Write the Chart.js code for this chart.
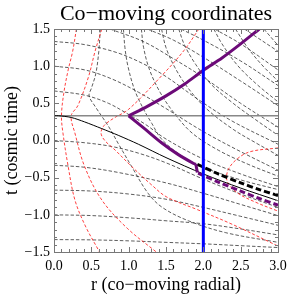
<!DOCTYPE html>
<html>
<head>
<meta charset="utf-8">
<script src="https://cdn.jsdelivr.net/npm/chart.js@4.4.0/dist/chart.umd.min.js"></script>
<style>
  html, body { margin: 0; padding: 0; background: #fff; }
</style>
</head>
<body>
<canvas id="chart" width="288" height="296"></canvas>
<script>
// axis ticks
const xTicks = [0, 0.5, 1, 1.5, 2, 2.5, 3];
const yTicks = [-1.5, -1, -0.5, 0, 0.5, 1, 1.5];

// black dashed lines starting flat at r = 0 (lower half)
const hLow0 = [[0,0],[0.41,-0.03],[0.77,-0.08],[1.13,-0.17],[1.5,-0.3],[2.0,-0.52],[2.5,-0.72],[3.0,-0.9]];
const hLow1 = [[0,-0.333],[0.41,-0.36],[0.86,-0.43],[1.5,-0.57],[2.0,-0.71],[2.5,-0.86],[3.0,-1.01]];
const hLow2 = [[0,-0.667],[0.5,-0.68],[1.0,-0.72],[1.5,-0.79],[2.0,-0.9],[2.5,-1.02],[3.0,-1.14]];
const hLow3 = [[0,-1.0],[0.5,-1.01],[1.0,-1.04],[1.5,-1.08],[2.0,-1.12],[2.5,-1.19],[3.0,-1.27]];
const hLow4 = [[0,-1.333],[0.5,-1.337],[1.0,-1.35],[1.5,-1.37],[2.0,-1.39],[2.5,-1.415],[3.0,-1.44]];

// black dashed lines of the same family, upper half
const hUp2 = [[0,0.667],[0.41,0.61],[0.73,0.5],[1.0,0.35],[1.22,0.22],[1.5,0.02],[2.0,-0.25],[2.5,-0.45],[3.0,-0.62]];
const hUp3 = [[0,1.0],[0.41,0.95],[0.77,0.83],[1.13,0.65],[1.5,0.43],[2.0,0.12],[2.5,-0.15],[3.0,-0.4]];
const hUp4 = [[0,1.333],[0.41,1.29],[0.85,1.18],[1.2,1.03],[1.5,0.86],[1.92,0.56],[2.37,0.27],[3.0,-0.05]];
const hUp5 = [[0.75,1.5],[1.2,1.33],[1.6,1.1],[2.0,0.85],[2.5,0.5],[3.0,0.18]];
const hUp6 = [[1.25,1.5],[1.6,1.35],[2.0,1.12],[2.5,0.8],[3.0,0.47]];
const hUp7 = [[1.7,1.5],[2.0,1.35],[2.5,1.07],[3.0,0.74]];
const hUp8 = [[2.15,1.5],[2.5,1.3],[3.0,0.95]];
const hUp9 = [[2.55,1.5],[3.0,1.2]];

// steep black dashed lines coming in from the top
const steep0 = [[0.62,1.5],[0.6,1.2],[0.56,0.9],[0.5,0.7],[0.47,0.6],[0.55,0.46],[0.73,0.19],[0.86,-0.04],[1.04,-0.35],[1.26,-0.71],[1.45,-0.9],[1.8,-1.08],[2.3,-1.24],[3.0,-1.37]];
const steep1 = [[0.93,1.5],[0.95,1.25],[0.99,1.0],[1.08,0.68],[1.2,0.42],[1.31,0.23],[1.44,0.02],[1.7,-0.2],[2.0,-0.36],[2.5,-0.53],[3.0,-0.66]];
const steep2 = [[1.17,1.5],[1.2,1.25],[1.28,0.95],[1.42,0.65],[1.6,0.38],[1.85,0.1],[2.2,-0.13],[2.6,-0.32],[3.0,-0.48]];
const steep3 = [[1.44,1.5],[1.5,1.25],[1.62,0.98],[1.8,0.7],[2.05,0.42],[2.4,0.15],[2.7,-0.03],[3.0,-0.2]];
const steep4 = [[1.67,1.5],[1.75,1.28],[1.9,1.02],[2.1,0.76],[2.4,0.5],[2.7,0.28],[3.0,0.07]];
const steep5 = [[2.14,1.5],[2.25,1.3],[2.45,1.02],[2.7,0.77],[3.0,0.52]];
const steep6 = [[2.43,1.5],[2.6,1.24],[2.8,1.0],[3.0,0.8]];
const steep7 = [[2.81,1.5],[3.0,1.28]];

// red dashed curves
const red1 = [[0.30,1.5],[0.25,1.2],[0.19,0.95],[0.13,0.63],[0.10,0.33],[0.12,0.1],[0.19,-0.35],[0.28,-0.8],[0.42,-1.15],[0.61,-1.5]];
const red2 = [[0.64,1.5],[0.55,1.2],[0.46,0.85],[0.32,0.47],[0.23,0.33],[0.28,0.1],[0.41,-0.35],[0.64,-0.8],[0.98,-1.18],[1.37,-1.5]];
const red3 = [[1.94,1.5],[1.74,1.21],[1.45,0.88],[1.0,0.42],[0.8,0.3],[0.67,0.2],[0.63,0.1],[0.68,0.0],[0.82,-0.13],[1.04,-0.35],[1.31,-0.6],[1.51,-0.76],[1.92,-0.93],[2.37,-1.12],[3.0,-1.42]];
const red4 = [[3.0,-0.1],[2.63,-0.15],[2.45,-0.25],[2.33,-0.4],[2.32,-0.55],[2.45,-0.7],[2.7,-0.83],[3.0,-0.95]];

// solid thin black curve and t = 1/3 line
const edge = [[0,0.333],[0.06,0.333],[0.23,0.31],[0.41,0.25],[0.64,0.16],[0.86,0.07],[1.13,-0.05],[1.5,-0.23],[2.0,-0.45],[2.5,-0.64],[3.0,-0.81]];
const tThird = [[0,0.333],[3,0.333]];

// light ray (purple) and observer (blue)
const rayOut = [[1.0,0.333],[1.25,0.46],[1.5,0.6],[1.75,0.76],[2.0,0.945],[2.25,1.11],[2.5,1.3],[2.75,1.5]];
const rayIn = [[1.0,0.333],[1.2,0.17],[1.44,-0.03],[1.65,-0.18],[1.87,-0.31],[1.9,-0.32]];
const rayDrop = [[1.9,-0.32],[1.92,-0.43]];
const rayInDash = [[1.93,-0.44],[2.2,-0.56],[2.5,-0.68],[2.75,-0.78],[3.0,-0.87]];
const blackThick = [[1.92,-0.32],[2.2,-0.45],[2.5,-0.57],[2.75,-0.66],[3.0,-0.74]];
const observer = [[2,-1.5],[2,1.5]];

function pts(a) {
  return a.map(p => ({x: p[0], y: p[1]}));
}
function dashed(a) {
  return {data: pts(a), borderColor: '#333', borderWidth: 0.8, borderDash: [3.5, 2], tension: 0.35};
}
function redDashed(a) {
  return {data: pts(a), borderColor: 'rgba(255,30,30,0.95)', borderWidth: 0.9, borderDash: [3, 2], tension: 0.35};
}
function minus(v) {
  return (v < 0 ? '\u2212' : '') + Math.abs(v).toFixed(1);
}

const datasets = [
  {data: pts(observer), borderColor: '#0000ff', borderWidth: 3, tension: 0},
  {data: pts(rayOut), borderColor: '#6c0a78', borderWidth: 3, tension: 0.3},
  {data: pts(rayIn), borderColor: '#6c0a78', borderWidth: 3, tension: 0.3},
  {data: pts(rayDrop), borderColor: '#6c0a78', borderWidth: 3, tension: 0},
  {data: pts(rayInDash), borderColor: '#6c0a78', borderWidth: 3, borderDash: [6, 3], tension: 0.3},
  {data: pts(blackThick), borderColor: '#000', borderWidth: 3, borderDash: [6, 3], tension: 0.3},
  {data: pts(edge), borderColor: '#000', borderWidth: 1, tension: 0.3},
  {data: pts(tThird), borderColor: '#888', borderWidth: 1.5, tension: 0},
  redDashed(red1), redDashed(red2), redDashed(red3), redDashed(red4),
  dashed(hLow0), dashed(hLow1), dashed(hLow2), dashed(hLow3), dashed(hLow4),
  dashed(hUp2), dashed(hUp3), dashed(hUp4), dashed(hUp5), dashed(hUp6), dashed(hUp7), dashed(hUp8), dashed(hUp9),
  dashed(steep0), dashed(steep1), dashed(steep2), dashed(steep3), dashed(steep4), dashed(steep5), dashed(steep6), dashed(steep7)
];

// box with inward ticks on all four sides, title over the plot area
const frame = {
  id: 'frame',
  afterDatasetsDraw(chart) {
    const {ctx, chartArea: a, scales: {x, y}} = chart;
    ctx.save();
    ctx.strokeStyle = '#777';
    ctx.lineWidth = 1;
    ctx.strokeRect(Math.round(a.left) + 0.5, Math.round(a.top) + 0.5, Math.round(a.right - a.left), Math.round(a.bottom - a.top));
    ctx.beginPath();
    for (let i = 0; i <= 30; i++) {
      const px = Math.round(x.getPixelForValue(i / 10)) + 0.5;
      const len = i % 5 === 0 ? 5 : 3;
      ctx.moveTo(px, a.bottom); ctx.lineTo(px, a.bottom - len);
      ctx.moveTo(px, a.top); ctx.lineTo(px, a.top + len);
    }
    for (let i = -15; i <= 15; i++) {
      const py = Math.round(y.getPixelForValue(i / 10)) + 0.5;
      const len = i % 5 === 0 ? 5 : 3;
      ctx.moveTo(a.left, py); ctx.lineTo(a.left + len, py);
      ctx.moveTo(a.right, py); ctx.lineTo(a.right - len, py);
    }
    ctx.stroke();
    ctx.fillStyle = '#000';
    ctx.font = '22px "Liberation Serif"';
    ctx.textAlign = 'center';
    ctx.textBaseline = 'alphabetic';
    ctx.fillText('Co\u2212moving coordinates', (a.left + a.right) / 2, 20);
    ctx.restore();
  }
};

new Chart(document.getElementById('chart'), {
  type: 'scatter',
  data: {datasets: datasets},
  options: {
    responsive: false,
    animation: false,
    events: [],
    datasets: {scatter: {showLine: true, pointRadius: 0, fill: false}},
    layout: {padding: {top: 29, right: 10, bottom: 0, left: 0}},
    plugins: {
      legend: {display: false},
      tooltip: {enabled: false},
      title: {display: false}
    },
    scales: {
      x: {
        type: 'linear', min: 0, max: 3,
        grid: {display: false, drawTicks: false},
        border: {display: false},
        afterBuildTicks: s => { s.ticks = xTicks.map(v => ({value: v})); },
        afterFit: s => { s.height = 44; s.paddingLeft = 0; s.paddingRight = 0; },
        ticks: {padding: 6, color: '#000', maxRotation: 0, font: {family: 'Liberation Serif', size: 14}, callback: v => minus(v)},
        title: {display: true, text: 'r (co\u2212moving radial)', color: '#000', padding: {top: 0, bottom: 0}, font: {family: 'Liberation Serif', size: 18}}
      },
      y: {
        type: 'linear', min: -1.5, max: 1.5,
        grid: {display: false, drawTicks: false},
        border: {display: false},
        afterBuildTicks: s => { s.ticks = yTicks.map(v => ({value: v})); },
        afterFit: s => { s.width = 54; s.paddingTop = 0; s.paddingBottom = 0; },
        ticks: {padding: 4, color: '#000', font: {family: 'Liberation Serif', size: 14}, callback: v => minus(v)},
        title: {display: true, text: 't (cosmic time)', color: '#000', padding: {top: 1, bottom: 0}, font: {family: 'Liberation Serif', size: 18}}
      }
    }
  },
  plugins: [frame]
});
</script>
</body>
</html>
